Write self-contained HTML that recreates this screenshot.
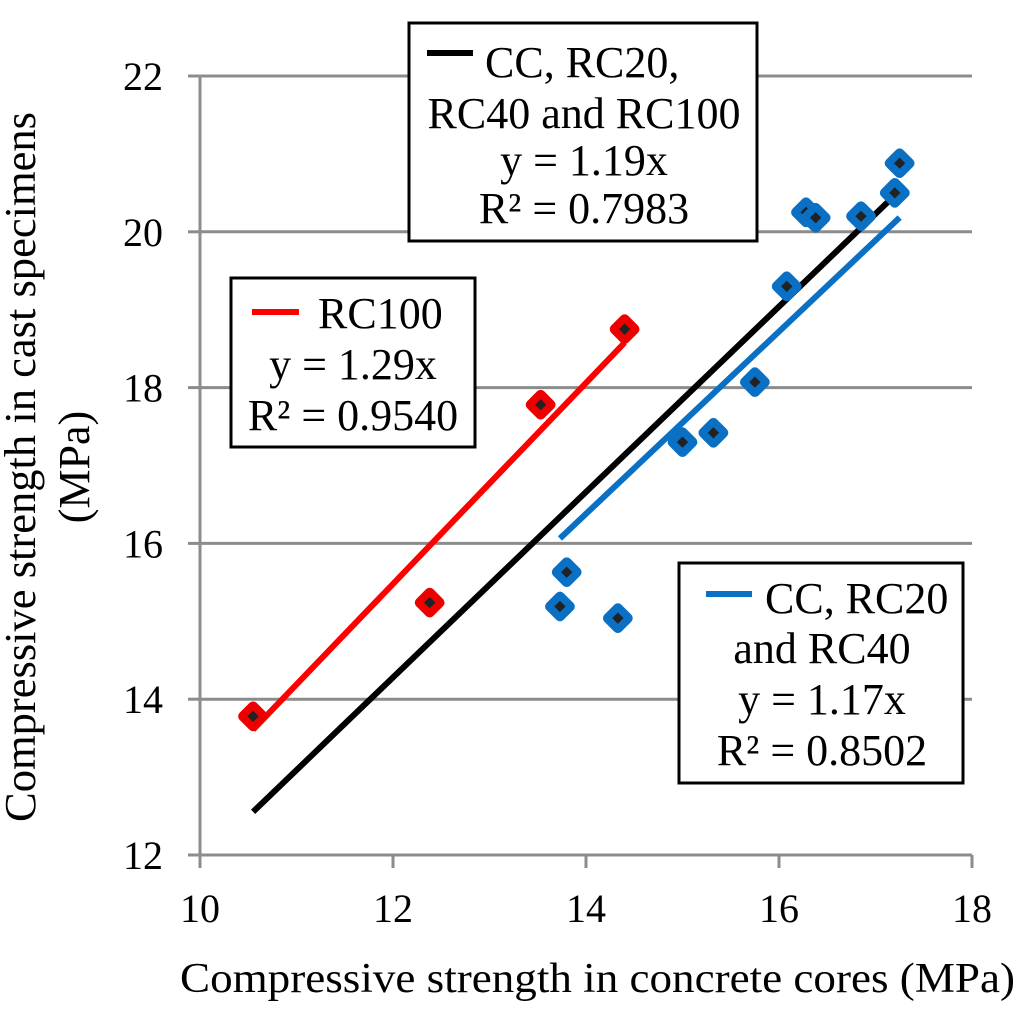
<!DOCTYPE html>
<html><head><meta charset="utf-8"><style>
html,body{margin:0;padding:0;background:#fff;}
svg{display:block;font-family:"Liberation Serif",serif;}
</style></head><body>
<svg id="chart" width="1024" height="1011" viewBox="0 0 1024 1011">
<g id="grid"></g>
<g id="axes"></g>
<g id="lines"></g>
<g id="points"></g>
<g id="legends"></g>
<text x="180" y="992" font-size="42" textLength="835" lengthAdjust="spacingAndGlyphs">Compressive strength in concrete cores  (MPa)</text>
<text transform="translate(35,467) rotate(-90)" font-size="44" text-anchor="middle" textLength="710" lengthAdjust="spacingAndGlyphs">Compressive strength in cast specimens</text>
<text transform="translate(89,467) rotate(-90)" font-size="44" text-anchor="middle">(MPa)</text>
</svg>
<script>
const xTicks=[10,12,14,16,18];
const yTicks=[12,14,16,18,20,22];
const blueX=[13.73,13.8,14.33,15.0,15.32,15.75,16.08,16.28,16.38,16.85,17.2,17.25];
const blueY=[15.19,15.63,15.04,17.3,17.42,18.07,19.3,20.25,20.18,20.2,20.5,20.88];
const redX=[10.55,12.38,13.53,14.4];
const redY=[13.78,15.24,17.78,18.75];
const slopes=[1.29,1.19,1.17];
const lineRanges=[[10.55,14.4],[10.55,17.25],[13.73,17.25]];
const lineColors=['#ff0000','#000000','#0a70c4'];
const lineNames=['trendline-rc100','trendline-all','trendline-cc-rc20-rc40'];
const NS='http://www.w3.org/2000/svg';
const X=v=>200+(v-10)*96.5;
const Y=v=>855-(v-12)*77.9;
function mk(tag,attrs,parent){const e=document.createElementNS(NS,tag);for(const k in attrs)e.setAttribute(k,attrs[k]);document.getElementById(parent).appendChild(e);return e;}
yTicks.forEach(t=>{
 if(t>12){const l=mk('line',{x1:200,x2:972,y1:Y(t),y2:Y(t),stroke:'#8c8c8c','stroke-width':3},'grid');
 
 }
 const tk=mk('line',{x1:188,x2:200,y1:Y(t),y2:Y(t),stroke:'#8c8c8c','stroke-width':3},'axes');
 
 
 const tx=mk('text',{x:163,y:Y(t)+14,'font-size':40,'text-anchor':'end'},'axes');tx.textContent=t;
 
 
});
xTicks.forEach(t=>{
 const tk=mk('line',{x1:X(t),x2:X(t),y1:855,y2:868,stroke:'#8c8c8c','stroke-width':3},'axes');
 
 
 const tx=mk('text',{x:X(t),y:922,'font-size':40,'text-anchor':'middle'},'axes');tx.textContent=t;
 
 
});
const ya=mk('line',{x1:200,x2:200,y1:Y(22),y2:855,stroke:'#8c8c8c','stroke-width':3},'axes');


const xa=mk('line',{x1:200,x2:972,y1:855,y2:855,stroke:'#8c8c8c','stroke-width':3},'axes');


function marker(x,y,c,i,name){
 const g=mk('g',{transform:`translate(${X(x)},${Y(y)})`},'points');
 
 
 const d=document.createElementNS(NS,'rect');
 d.setAttribute('x',-10);d.setAttribute('y',-10);d.setAttribute('width',20);d.setAttribute('height',20);d.setAttribute('rx',3);
 d.setAttribute('fill',c);d.setAttribute('stroke',c);d.setAttribute('stroke-width',4);d.setAttribute('transform','rotate(45)');g.appendChild(d);
 const s=document.createElementNS(NS,'rect');
 s.setAttribute('x',-4);s.setAttribute('y',-4);s.setAttribute('width',8);s.setAttribute('height',8);s.setAttribute('fill','#222');s.setAttribute('transform','rotate(45)');g.appendChild(s);
}
redX.forEach((x,i)=>marker(x,redY[i],'#ee0000',i,'point-rc100'));
blueX.forEach((x,i)=>marker(x,blueY[i],'#0a70c4',i,'point-cc-rc20-rc40'));
slopes.forEach((m,i)=>{
 const [a,b]=lineRanges[i];
 const l=mk('line',{x1:X(a),y1:Y(m*a),x2:X(b),y2:Y(m*b),stroke:lineColors[i],'stroke-width':6},'lines');
 
 
});
function legend(name,x,y,w,h,color,lines,lx){
 const g=mk('g',{},'legends');
 
 
 const r=document.createElementNS(NS,'rect');
 r.setAttribute('x',x);r.setAttribute('y',y);r.setAttribute('width',w);r.setAttribute('height',h);r.setAttribute('fill','#fff');r.setAttribute('stroke','#000');r.setAttribute('stroke-width',3);g.appendChild(r);
 const sw=document.createElementNS(NS,'line');
 sw.setAttribute('x1',lx[0]);sw.setAttribute('x2',lx[1]);sw.setAttribute('y1',lx[2]);sw.setAttribute('y2',lx[2]);sw.setAttribute('stroke',color);sw.setAttribute('stroke-width',6);g.appendChild(sw);
 lines.forEach(([t,tx,ty,anchor])=>{const e=document.createElementNS(NS,'text');e.setAttribute('x',tx);e.setAttribute('y',ty);e.setAttribute('font-size',44);e.setAttribute('text-anchor',anchor);e.textContent=t;g.appendChild(e);});
}
legend('legend-all',409,23,348,218,'#000',[['CC, RC20,',485,77,'start'],['RC40 and RC100',584,128,'middle'],['y = 1.19x',584,175,'middle'],['R² = 0.7983',584,223,'middle']],[427,473,53]);
legend('legend-rc100',231,278,244,169,'#ff0000',[['RC100',318,328,'start'],['y = 1.29x',353,379,'middle'],['R² = 0.9540',353,430,'middle']],[252,299,312]);
legend('legend-cc-rc20-rc40',679,563,284,220,'#0a70c4',[['CC, RC20',765,613,'start'],['and RC40',822,663,'middle'],['y = 1.17x',822,714,'middle'],['R² = 0.8502',822,765,'middle']],[706,752,594]);
</script>
</body></html>
